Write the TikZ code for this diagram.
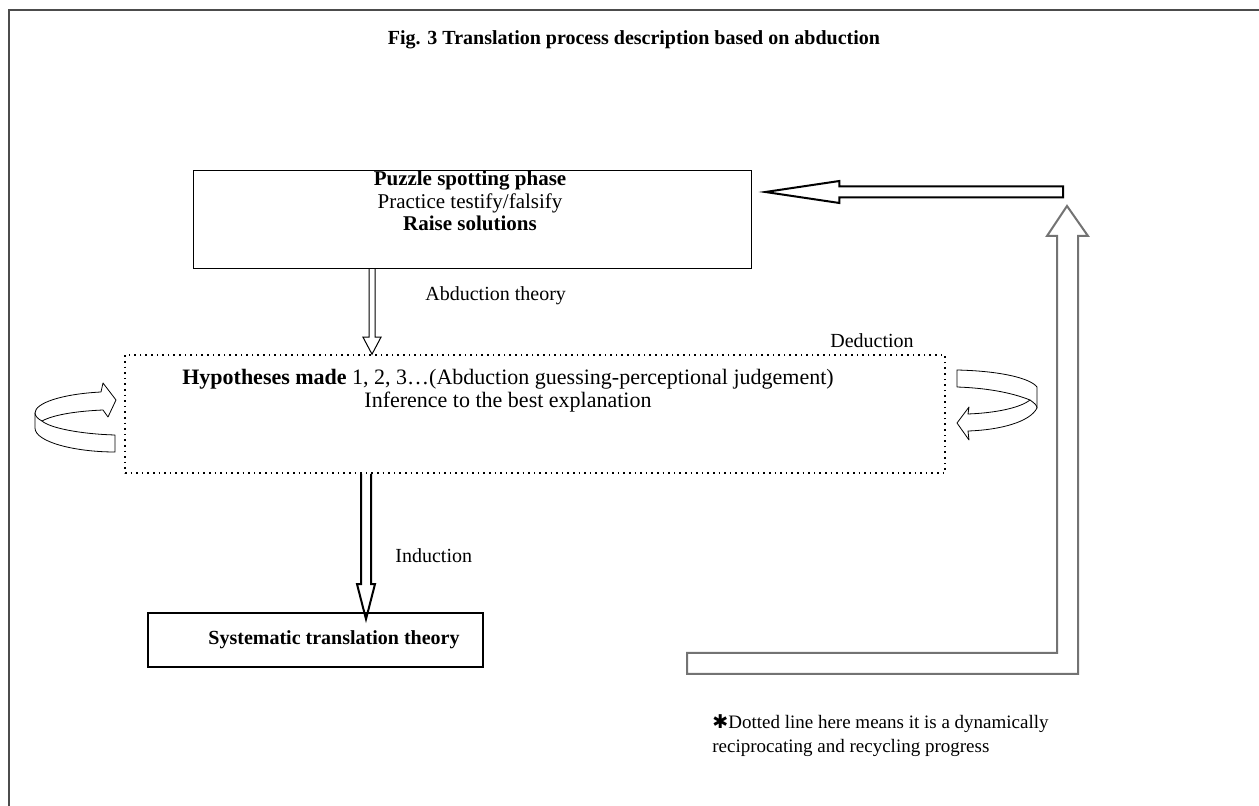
\documentclass[tikz,border=0pt]{standalone}
\usepackage{fontspec}
\setmainfont{Liberation Serif}
\newfontfamily\symfont{DejaVu Sans}
\usetikzlibrary{calc, positioning}
% hollow block arrow pointing down: style, from, to, shaft half width, head half width, head length
\newcommand{\hollowdown}[6]{%
  \draw[#1] let \p1 = (#2), \p2 = (#3) in
    (\x1-#4,\y1) -- (\x1-#4,\y2+#6) -- (\x1-#5,\y2+#6) -- (\x1,\y2)
    -- (\x1+#5,\y2+#6) -- (\x1+#4,\y2+#6) -- (\x1+#4,\y1);}
% hollow block arrow pointing left: style, from, to, shaft half width, head half width, head length
\newcommand{\hollowleft}[6]{%
  \draw[#1] let \p1 = (#2), \p2 = (#3) in
    (\x1,\y1+#4) -- (\x2+#6,\y1+#4) -- (\x2+#6,\y1+#5) -- (\x2,\y1)
    -- (\x2+#6,\y1-#5) -- (\x2+#6,\y1-#4) -- (\x1,\y1-#4) -- cycle;}

\begin{document}
\begin{tikzpicture}[x=0.5pt, y=-0.5pt, boxstyle/.style = {rectangle, draw, inner sep=0pt}, textstyle/.style = {align=center, inner sep=0pt}, labelstyle/.style = {inner sep=0pt, anchor=west}, ribbon/.style = {draw, fill=white, line width=0.4pt, line join=round}]
  \tikzstyle{every node}=[font=\fontsize{10}{11.5}\selectfont]
  \useasboundingbox (0,0) rectangle (1259,806);

  % frame
  \draw[line width=1pt, black!70] (9,806) -- (9,10) -- (1259,10);
  \node[textstyle, font=\fontsize{10}{11.5}\selectfont\bfseries] (title) at (634,40) {Fig. 3 Translation process description based on abduction};

  % Puzzle spotting phase
  \node[boxstyle, minimum width=279pt, minimum height=49pt] (puzzle) at (472,219) {};
  \node[textstyle, font=\fontsize{10.5}{11.4}\selectfont] (puzzletext) at (470,201) {\textbf{Puzzle spotting phase}\\Practice testify/falsify\\\textbf{Raise solutions}};

  % Hypotheses
  \node[boxstyle, dotted, line width=0.8pt, minimum width=410pt, minimum height=59pt] (hyp) at (535,414) {};
  \node[textstyle, font=\fontsize{11}{11.3}\selectfont] (hyptext) at (508,391) {\textbf{Hypotheses made} 1, 2, 3…(Abduction guessing-perceptional judgement)\\Inference to the best explanation};

  % Systematic translation theory
  \node[boxstyle, line width=0.9pt, minimum width=167.5pt, minimum height=27pt] (sys) at (315.5,640) {};
  \node[textstyle, font=\fontsize{10}{11.5}\selectfont\bfseries] (systext) at (334,640) {Systematic translation theory};

  % labels
  \node[labelstyle] (abdlabel) at (425,296) {Abduction theory};
  \node (deduction) at (872,341) {Deduction};
  \node[labelstyle] (induction) at (395,556) {Induction};
  \node[labelstyle, align=left, anchor=north west, font=\fontsize{9.5}{12}\selectfont] (note) at (712,714) {{\symfont ✱}Dotted line here means it is a dynamically\\reciprocating and recycling progress};

  % arrows
  \hollowdown{line width=0.5pt}{$(puzzle.south)+(-100,0)$}{$(hyp.north -| puzzle.south)+(-100,0)$}{1.5pt}{4.5pt}{8.5pt}
  \hollowdown{line width=1pt}{$(hyp.south)+(-169,0)$}{$(sys.north)+(50.5,7)$}{2.5pt}{4.5pt}{17.5pt}
  \coordinate (fbtail) at (1063,192);
  \hollowleft{line width=1pt}{fbtail}{$(puzzle.east)+(14,0)$}{2.75pt}{5.5pt}{37pt}
  \draw[line width=1pt, black!55] (687,653) -- (1057,653) -- (1057,236) -- (1047,236) -- (1067,206) -- (1088,236) -- (1078,236) -- (1078,674) -- (687,674) -- cycle;

  % left loop
  \draw[ribbon] (101,392) .. controls (62,394) and (35,403) .. (35,413) -- (35,428) .. controls (35,442) and (75,452) .. (115,452) -- (115,435) .. controls (80,434) and (50,428) .. (42,421) .. controls (55,414) and (80,411) .. (103,410) -- (108,417) -- (116,400) -- (103,383) -- cycle;
  \draw[line width=0.4pt] (42,421) .. controls (38,419) and (35,416) .. (35,413);

  % right loop
  \draw[ribbon] (957,370) .. controls (1000,371) and (1030,378) .. (1037,387) -- (1037,408) .. controls (1030,422) and (1000,430) .. (968,431) -- (969,440) -- (957,423) -- (969,407) -- (968,414) .. controls (995,413) and (1020,408) .. (1030,400) .. controls (1010,392) and (985,388) .. (957,387) -- cycle;
  \draw[line width=0.4pt] (1030,400) .. controls (1034,403) and (1037,405) .. (1037,408);

\end{tikzpicture}
\end{document}
